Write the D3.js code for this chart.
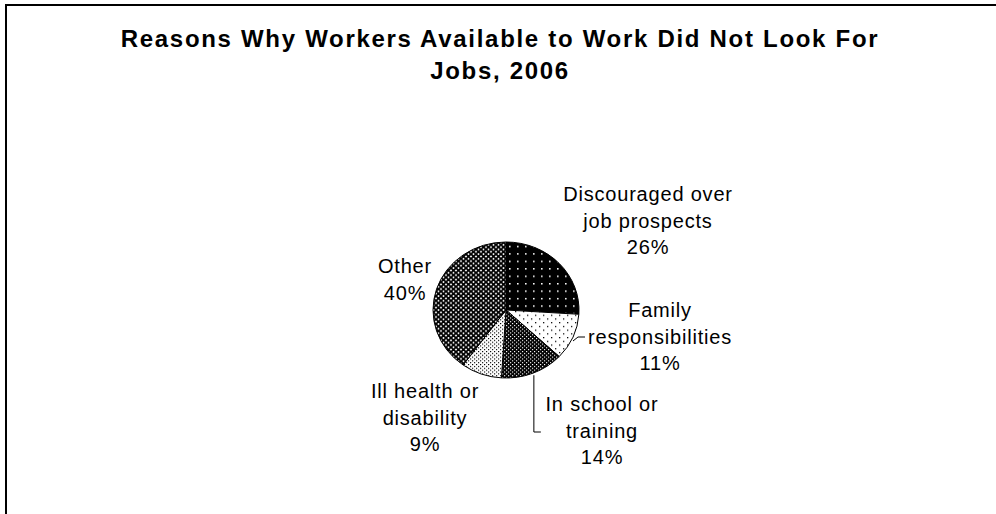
<!DOCTYPE html>
<html>
<head>
<meta charset="utf-8">
<script src="https://cdn.jsdelivr.net/npm/d3@7"></script>
<style>
  body { margin: 0; background: #fff; }
  svg text { font-family: "Liberation Sans", Arial, sans-serif; fill: #000; }
  .title { font-size: 24px; font-weight: bold; letter-spacing: 1.7px; }
  .label { font-size: 20px; letter-spacing: 0.8px; }
</style>
</head>
<body>
<svg id="chart" width="996" height="514"></svg>
<script>
// Chart data
const titleLines = ["Reasons Why Workers Available to Work Did Not Look For", "Jobs, 2006"];
const categories = ["Discouraged over job prospects", "Family responsibilities", "In school or training", "Ill health or disability", "Other"];
const values = [26, 11, 14, 9, 40];
const labelLines = [["Discouraged over", "job prospects"], ["Family", "responsibilities"], ["In school or", "training"], ["Ill health or", "disability"], ["Other"]];

// Layout
const width = 996, height = 514;
const cx = 506, cy = 310, rx = 73, ry = 68;
// label offsets from the pie centre (first baseline, centred)
const labelOffset = [[142, -109], [154, 7], [96, 101], [-81, 88], [-101, -37]];
const lineHeight = 26.5;
const fills = ["url(#pDisc)", "url(#pFam)", "url(#pSchool)", "url(#pIll)", "url(#pOther)"];

const svg = d3.select("#chart");
const defs = svg.append("defs");

// Fill patterns, roughly like the old Excel ones
function dotPattern(id, size, bg, fg, dots, r) {
    const p = defs.append("pattern").attr("id", id)
        .attr("patternUnits", "userSpaceOnUse")
        .attr("width", size).attr("height", size);
    p.append("rect").attr("width", size).attr("height", size).attr("fill", bg);
    dots.forEach(d => p.append("rect").attr("x", d[0]).attr("y", d[1])
        .attr("width", r).attr("height", r).attr("fill", fg));
}
dotPattern("pDisc", 8, "#000", "#fff", [[3, 3]], 1.6);
dotPattern("pFam", 8, "#fff", "#000", [[1, 1], [5, 5]], 1.3);
dotPattern("pSchool", 4, "#000", "#fff", [[0, 0], [2, 2]], 1.2);
dotPattern("pIll", 4, "#fff", "#000", [[0, 0], [2, 2]], 1.2);
const po = defs.append("pattern").attr("id", "pOther")
    .attr("patternUnits", "userSpaceOnUse").attr("width", 5).attr("height", 5);
po.append("rect").attr("width", 5).attr("height", 5).attr("fill", "#fff");
po.append("path").attr("d", "M0,0L5,5M5,0L0,5").attr("stroke", "#000").attr("stroke-width", 1.8);
po.append("rect").attr("x", 2).attr("y", 2).attr("width", 1).attr("height", 1).attr("fill", "#000");

// Outer border
svg.append("rect")
    .attr("x", 6).attr("y", 5)
    .attr("width", width + 20).attr("height", height + 20)
    .attr("fill", "none").attr("stroke", "#000").attr("stroke-width", 2);

// Title
svg.append("g").selectAll("text").data(titleLines).join("text")
    .attr("class", "title")
    .attr("x", 500)
    .attr("y", (d, i) => 47 + i * 32)
    .attr("text-anchor", "middle")
    .text(d => d);

// Pie
const pie = d3.pie().sort(null).value(d => d)(values);
const arc = d3.arc().innerRadius(0).outerRadius(rx);

const pieG = svg.append("g")
    .attr("transform", `translate(${cx},${cy}) scale(1,${ry / rx})`);
pieG.selectAll("path").data(pie).join("path")
    .attr("d", arc)
    .attr("fill", (d, i) => fills[i])
    .attr("stroke", "#000")
    .attr("stroke-width", 1)
    .attr("vector-effect", "non-scaling-stroke");

// Labels
const labels = svg.append("g");
labelLines.forEach((lines, i) => {
    const allLines = lines.concat([values[i] + "%"]);
    labels.selectAll(null).data(allLines).join("text")
        .attr("class", "label")
        .attr("x", cx + labelOffset[i][0])
        .attr("y", (d, j) => cy + labelOffset[i][1] + j * lineHeight)
        .attr("text-anchor", "middle")
        .text(d => d);
});

// Leader lines for the two small slices on the right
function edgePoint(d) {
    const a = (d.startAngle + d.endAngle) / 2;
    return [cx + rx * Math.sin(a), cy - ry * Math.cos(a)];
}
const famP = edgePoint(pie[1]);
svg.append("path")
    .attr("d", `M${famP[0]},${famP[1] + 4}L${famP[0] + 5},${cy + 27}L${famP[0] + 12},${cy + 27}`)
    .attr("fill", "none").attr("stroke", "#000").attr("stroke-width", 1);
const schP = edgePoint(pie[2]);
svg.append("path")
    .attr("d", `M${schP[0] + 1},${schP[1] + 2}L${schP[0] + 1},${cy + 122}L${schP[0] + 8},${cy + 122}`)
    .attr("fill", "none").attr("stroke", "#000").attr("stroke-width", 1);
</script>
</body>
</html>
